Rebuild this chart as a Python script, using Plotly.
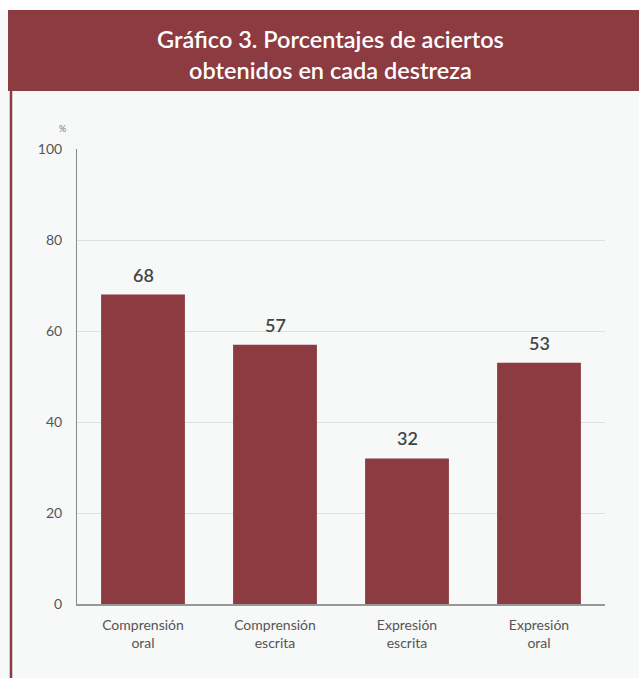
import plotly.graph_objects as go

categories = ["Comprensión<br>oral", "Comprensión<br>escrita", "Expresión<br>escrita", "Expresión<br>oral"]
values = [68, 57, 32, 53]
tick_vals = [0, 20, 40, 60, 80, 100]
tick_text = ["0", "20", "40", "60", "80", "100"]
title_text = "Gráfico 3. Porcentajes de aciertos<br>obtenidos en cada destreza"

W, H = 639, 678
L, R, T, B = 77, 605, 149, 604
pw, ph = R - L, B - T

def px(x):
    return (x - L) / pw

def py(y):
    return (B - y) / ph

maroon = "#8c3b41"

fig = go.Figure(go.Bar(
    x=categories, y=values,
    marker=dict(color=maroon, line=dict(width=0)),
    cliponaxis=False, width=0.635, hoverinfo="skip",
))

for c, v in zip(categories, values):
    fig.add_annotation(x=c, y=v, text=str(v), showarrow=False,
                       xanchor="center", yanchor="middle", yshift=20,
                       font=dict(family="Lato", size=18, color="#444444", weight=600))

fig.update_layout(
    width=W, height=H,
    margin=dict(l=L, r=W - R, t=T, b=H - B),
    paper_bgcolor="#f7f8f8", plot_bgcolor="rgba(0,0,0,0)",
    showlegend=False,
    font=dict(family="Lato", color="#555555"),
    yaxis=dict(range=[0, 100], tickvals=tick_vals, ticktext=tick_text,
               showgrid=True, gridcolor="#dedfdf", gridwidth=1,
               zeroline=False, showline=True, linecolor="#8a8a8a", linewidth=1,
               ticks="", ticklabelstandoff=11, tickfont=dict(size=14, color="#555555")),
    xaxis=dict(showline=True, linecolor="#999999", linewidth=2, ticks="",
               tickfont=dict(size=14, color="#555555"), ticklabelstandoff=7),
    shapes=[
        dict(type="rect", xref="paper", yref="paper", x0=px(-5), x1=px(645), y0=py(10), y1=py(-5),
             fillcolor="#ffffff", line=dict(width=0), layer="below"),
        dict(type="rect", xref="paper", yref="paper", x0=px(8), x1=px(645), y0=py(91), y1=py(10),
             fillcolor=maroon, line=dict(width=0), layer="below"),
        dict(type="line", xref="paper", yref="paper", x0=px(11), x1=px(11), y0=py(91), y1=py(690),
             line=dict(color=maroon, width=2.5)),
    ],
)

fig.add_annotation(text=title_text, xref="paper", yref="paper", x=px(330), y=py(54),
                   xanchor="center", yanchor="middle", showarrow=False,
                   font=dict(family="Lato", size=23.5, color="white", weight=600), align="center")
fig.add_annotation(text="%", xref="paper", yref="paper", x=px(62), y=py(129),
                   xanchor="center", yanchor="middle", showarrow=False,
                   font=dict(family="Lato", size=9, color="#777777"))

fig.write_html("out.html", config={"displayModeBar": False},
               post_script="document.body.style.margin='0';document.body.style.overflow='hidden';")
